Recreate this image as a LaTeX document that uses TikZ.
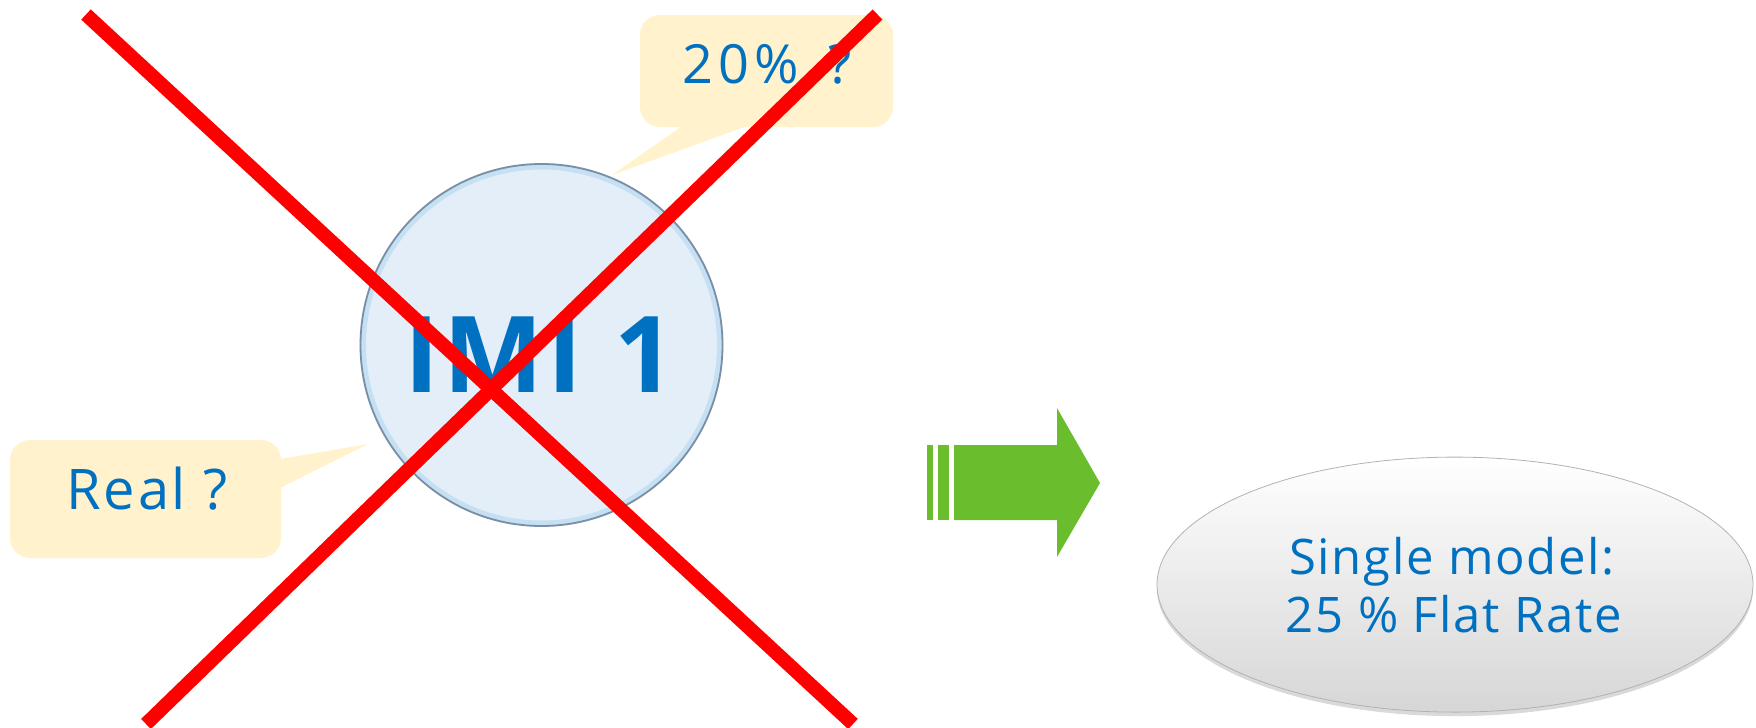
\documentclass[tikz,border=0pt]{standalone}
\usepackage{fontspec}
\setmainfont{Open Sans}
\usetikzlibrary{shapes.geometric,shadows}
\definecolor{txtblue}{HTML}{0070C0}
\definecolor{callfill}{HTML}{FFF2CC}
\definecolor{arrgreen}{HTML}{6ABD2D}
\definecolor{crossred}{HTML}{FF0000}
\definecolor{discfill}{HTML}{E4EEF8}
\definecolor{discedge}{HTML}{7A8FA6}
\definecolor{discglow}{HTML}{BFDDF2}
\begin{document}
\begin{tikzpicture}[x=1pt,y=-1pt,
  callbox/.style={fill=callfill, rounded corners=20pt, inner sep=0pt},
  calltext/.style={anchor=base, text=txtblue, font=\fontsize{56}{60}\selectfont},
  ovaltext/.style={anchor=base, text=txtblue, font=\fontsize{49}{54}\selectfont},
  crossline/.style={draw=crossred, line width=14pt},
  greenfill/.style={fill=arrgreen}]
\useasboundingbox (0,0) rectangle (1756,728);

% callout 20%
\node[callbox, minimum width=253pt, minimum height=112pt] (c20box) at (766.5,71) {};
\fill[callfill] (682,126) -- (612,175) -- (747,126) -- cycle;
\node[calltext, font=\fontsize{54}{60}\selectfont] (c20) at (767,83) {\addfontfeatures{LetterSpace=9}20\%\hspace{0.55em}?};

% callout Real
\node[callbox, minimum width=271pt, minimum height=118pt] (realbox) at (145.5,499) {};
\fill[callfill] (280,459) -- (368,444) -- (280,488) -- cycle;
\node[calltext] (real) at (147,509) {\addfontfeatures{LetterSpace=5}Real ?};

% disc
\node[circle, minimum size=364pt, inner sep=0pt, fill=discfill] (disc) at (541.5,345) {};
\draw[discglow, line width=5pt, opacity=0.8] (disc.center) circle[radius=178pt];
\draw[discedge, line width=1.8pt] (disc.center) circle[radius=181pt];
\node[anchor=base, text=txtblue, font=\bfseries\fontsize{106}{112}\selectfont] (imi) at (540,392) {\addfontfeatures{LetterSpace=4}IMI 1};

% green arrow
\fill[greenfill] (927,445) rectangle (933,520);
\fill[greenfill] (938,445) rectangle (949,520);
\fill[greenfill] (954,445) -- (1057,445) -- (1057,408) -- (1100,483) -- (1057,557) -- (1057,520) -- (954,520) -- cycle;

% ellipse
\node[ellipse, minimum width=596pt, minimum height=255pt, inner sep=0pt,
  top color=white, bottom color=black!16, draw=black!30, line width=0.8pt,
  drop shadow={shadow xshift=0pt, shadow yshift=-4pt, opacity=0.3}] (single) at (1455,584.6) {};
\node[ovaltext] (l1) at (1452,574) {\addfontfeatures{LetterSpace=3.5}Single model:};
\node[ovaltext] (l2) at (1454,632) {\addfontfeatures{LetterSpace=3.5}25 \% Flat Rate};

% red cross
\coordinate (xa1) at (86,14.5);
\coordinate (xa2) at (853,724);
\coordinate (xb1) at (877.5,14.5);
\coordinate (xb2) at (146,724);
\draw[crossline] (xa1) -- (xa2);
\draw[crossline] (xb1) -- (xb2);
\end{tikzpicture}
\end{document}
